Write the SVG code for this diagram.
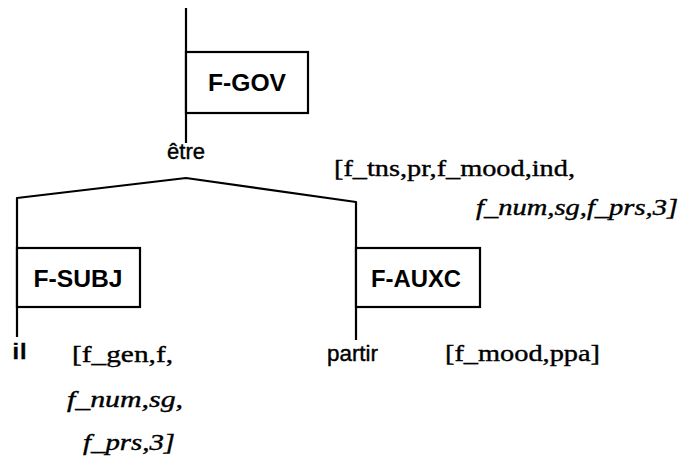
<svg xmlns="http://www.w3.org/2000/svg" width="686" height="461" viewBox="0 0 686 461">
<style>
.box{fill:#fff;stroke:#000;stroke-width:2.2}
.edge{fill:none;stroke:#000;stroke-width:2.2;stroke-linejoin:round}
.lbl{font-family:"Liberation Sans",Arial,sans-serif;font-weight:bold;font-size:24px;fill:#000}
.word{font-family:"Liberation Sans",Arial,sans-serif;font-size:22px;fill:#000;stroke:#000;stroke-width:0.4}
.feat{font-family:"Liberation Serif","Times New Roman",serif;font-size:24px;fill:#000;stroke:#000;stroke-width:0.4}
.it{font-style:italic}
</style>
<rect width="686" height="461" fill="#fff"/>
<g id="connectors">
<line class="edge" x1="186" y1="8" x2="186" y2="143"/>
<polyline class="edge" points="17,337 17,198 186,178 356,202 356,340"/>
</g>
<g id="f-gov">
<rect class="box" x="186" y="52" width="122" height="61"/>
<text class="lbl" x="247" y="91" text-anchor="middle" textLength="78" lengthAdjust="spacingAndGlyphs">F-GOV</text>
</g>
<g id="etre">
<text class="word" x="186" y="159" text-anchor="middle">être</text>
<text class="feat" x="334" y="176" textLength="241" lengthAdjust="spacingAndGlyphs">[f_tns,pr,f_mood,ind,</text>
<text class="feat it" x="476" y="215" textLength="202" lengthAdjust="spacingAndGlyphs">f_num,sg,f_prs,3]</text>
</g>
<g id="f-subj">
<rect class="box" x="17" y="248" width="123" height="59"/>
<text class="lbl" x="78" y="287" text-anchor="middle" textLength="89" lengthAdjust="spacingAndGlyphs">F-SUBJ</text>
</g>
<g id="f-auxc">
<rect class="box" x="356" y="248" width="124" height="59"/>
<text class="lbl" x="416" y="287" text-anchor="middle" textLength="90" lengthAdjust="spacingAndGlyphs">F-AUXC</text>
</g>
<g id="il">
<text class="word" x="12" y="359" textLength="15" lengthAdjust="spacingAndGlyphs">il</text>
<text class="feat" x="72" y="362" textLength="101" lengthAdjust="spacingAndGlyphs">[f_gen,f,</text>
<text class="feat it" x="67" y="407" textLength="116" lengthAdjust="spacingAndGlyphs">f_num,sg,</text>
<text class="feat it" x="83" y="450" textLength="92" lengthAdjust="spacingAndGlyphs">f_prs,3]</text>
</g>
<g id="partir">
<text class="word" x="327" y="361" textLength="51" lengthAdjust="spacingAndGlyphs">partir</text>
<text class="feat" x="445" y="361" textLength="155" lengthAdjust="spacingAndGlyphs">[f_mood,ppa]</text>
</g>
</svg>
